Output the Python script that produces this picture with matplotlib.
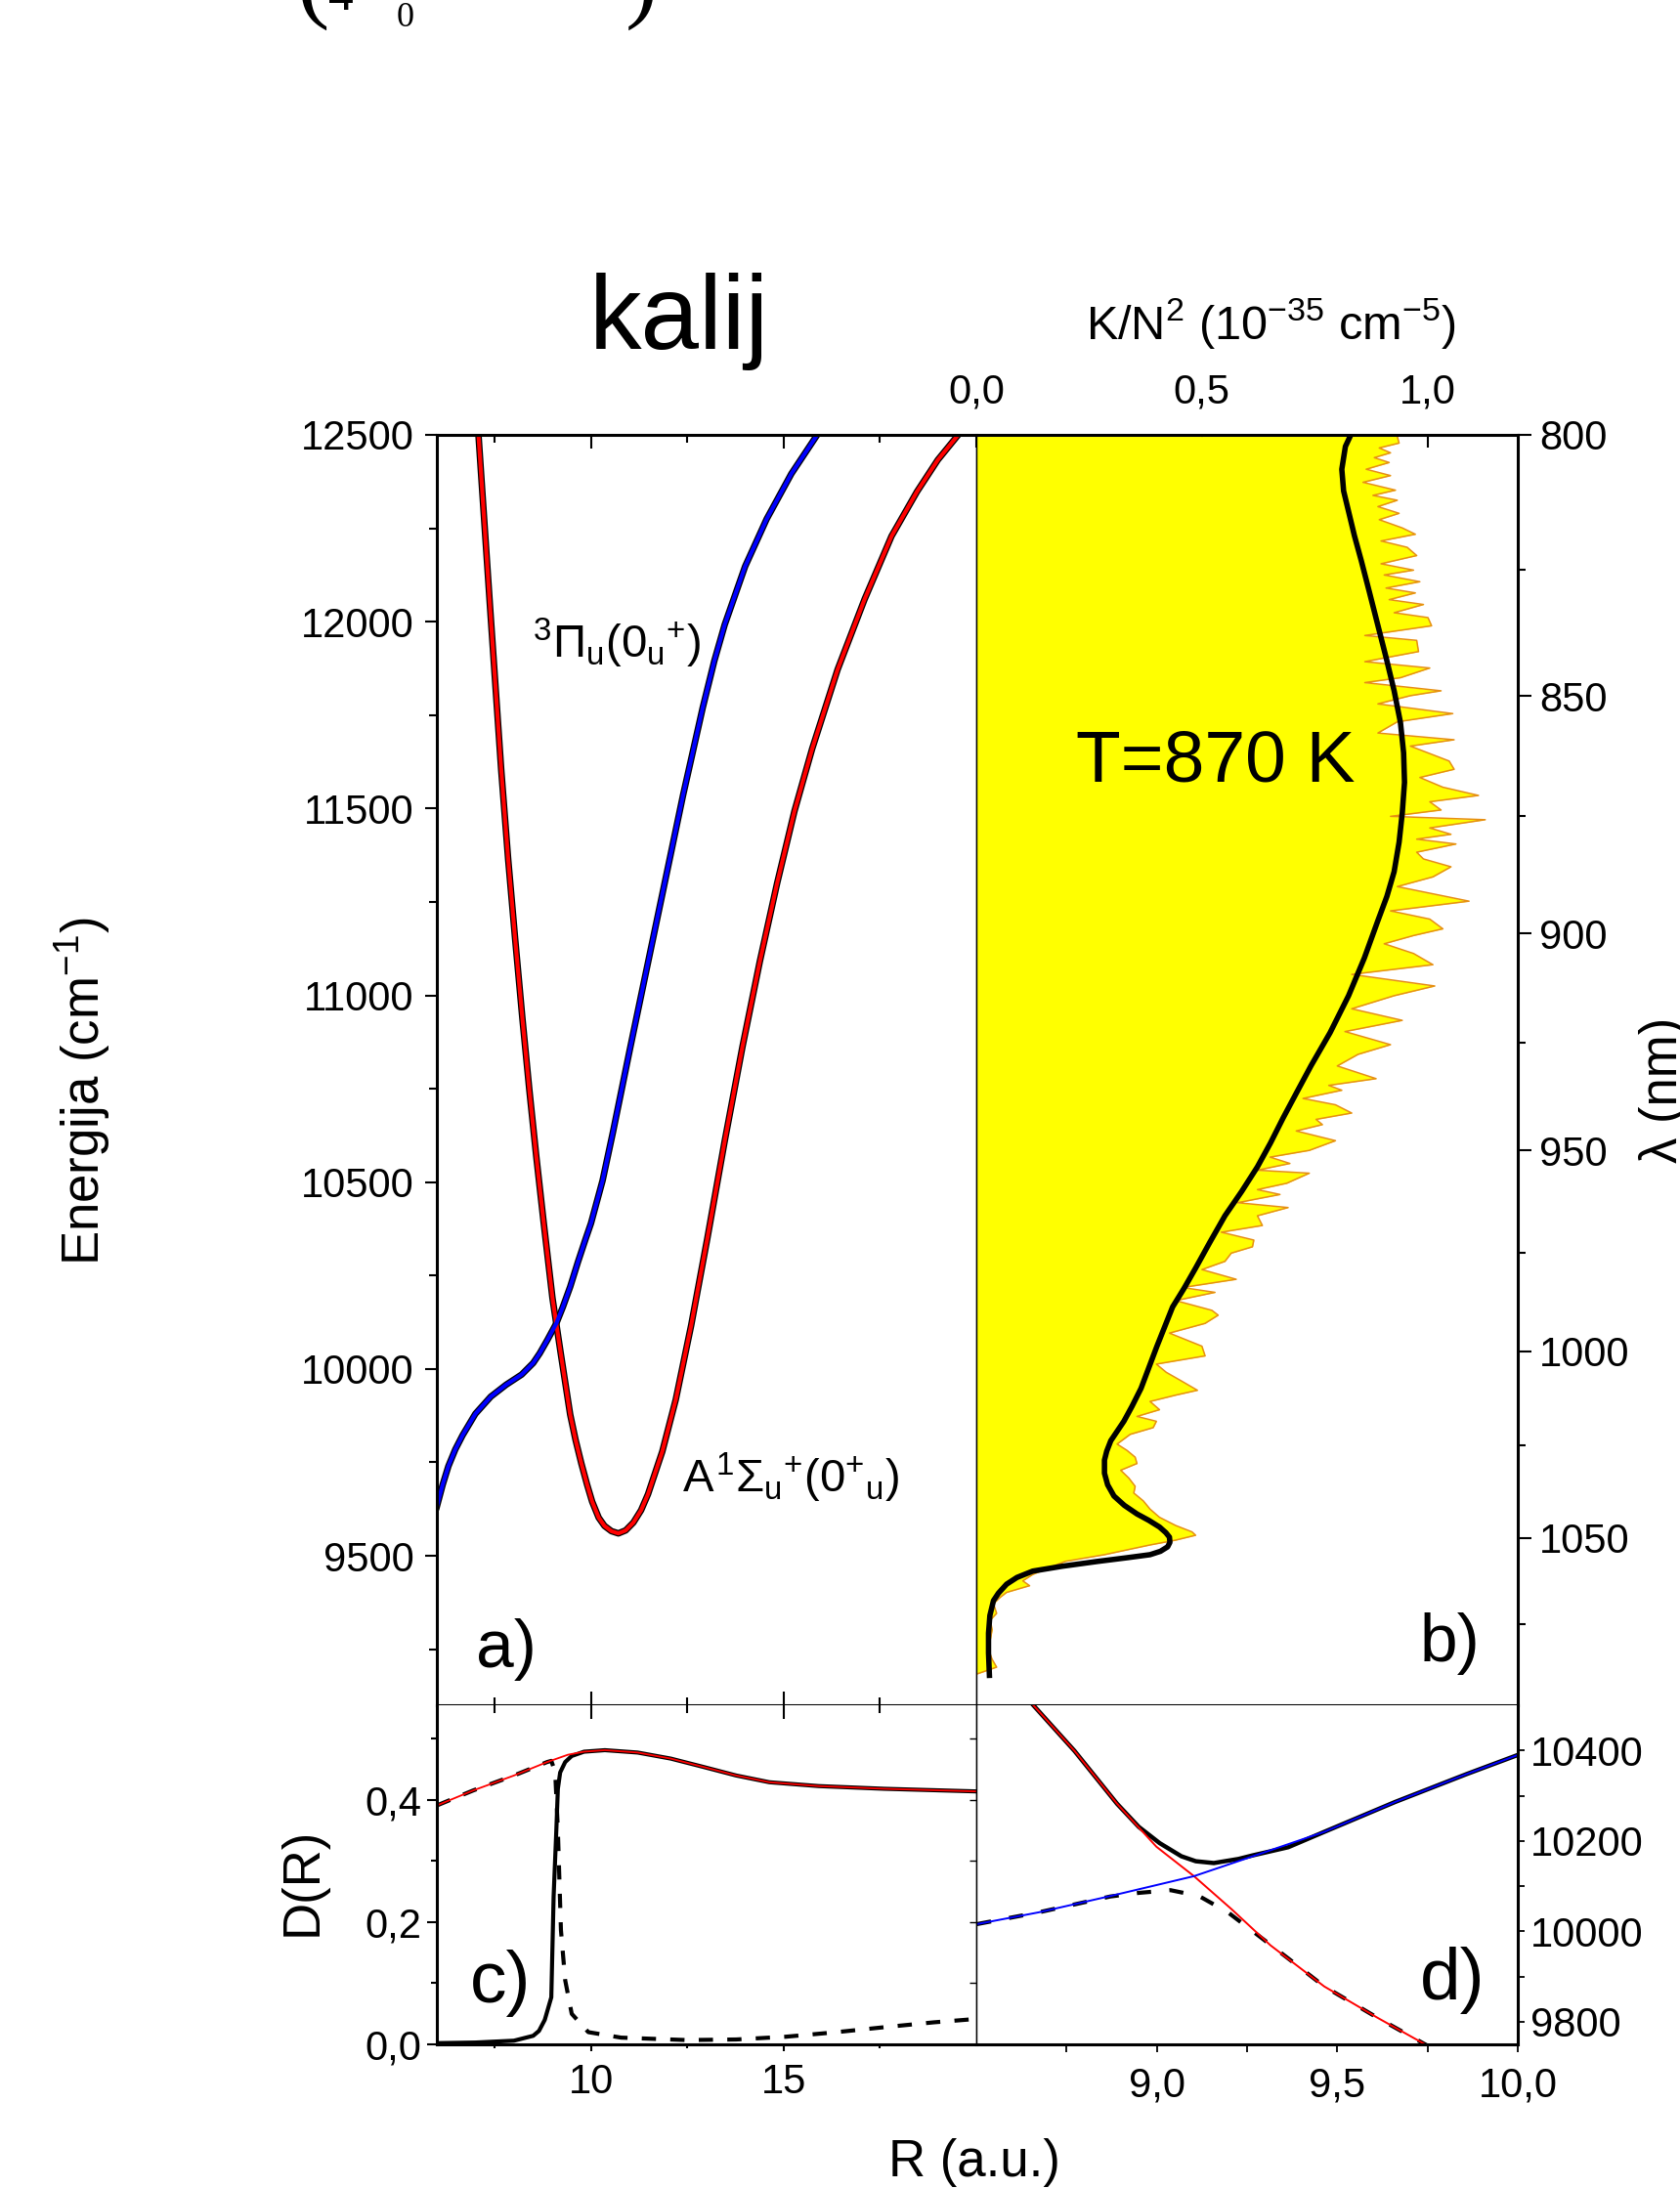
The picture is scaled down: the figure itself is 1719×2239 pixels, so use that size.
import numpy as np
import matplotlib
matplotlib.use('Agg')
import matplotlib.pyplot as plt

plt.rcParams['font.family'] = ['Liberation Sans', 'DejaVu Sans']
plt.rcParams['mathtext.fontset'] = 'custom'
plt.rcParams['mathtext.rm'] = 'Liberation Sans'
plt.rcParams['mathtext.it'] = 'Liberation Sans'
plt.rcParams['mathtext.sf'] = 'Liberation Sans'
plt.rcParams['mathtext.bf'] = 'Liberation Sans:bold'

# --- a) potential curves, R (a.u.) vs energy (cm^-1) ---
A_R = [7.08, 7.38, 7.67, 7.85, 8.03, 8.22, 8.40, 8.58, 8.77, 9.00, 9.21, 9.46, 9.60, 9.75,
       9.90, 10.03, 10.20, 10.35, 10.53, 10.71, 10.90, 11.10, 11.30, 11.48, 11.85, 12.20,
       12.60, 13.02, 13.47, 13.93, 14.38, 14.83, 15.28, 15.74, 16.40, 17.10, 17.80, 18.46,
       19.00, 19.53]
A_E = [12500, 12040, 11604, 11365, 11153, 10938, 10747, 10569, 10394, 10190, 10045, 9878,
       9810, 9747, 9690, 9645, 9602, 9580, 9566, 9560, 9568, 9589, 9622, 9665, 9779, 9918,
       10117, 10350, 10610, 10862, 11090, 11300, 11493, 11660, 11872, 12060, 12229, 12348,
       12433, 12500]

PI_R = [6.00, 6.15, 6.30, 6.48, 6.67, 7.00, 7.40, 7.80, 8.20, 8.50, 8.67, 8.87, 9.10, 9.27,
        9.46, 9.66, 9.86, 10.00, 10.30, 10.57, 11.00, 11.48, 12.00, 12.39, 12.90, 13.20,
        13.47, 14.00, 14.56, 15.20, 15.87]
PI_E = [9632, 9690, 9740, 9785, 9823, 9880, 9926, 9958, 9985, 10016, 10042, 10078, 10122,
        10166, 10220, 10286, 10348, 10390, 10504, 10634, 10851, 11088, 11344, 11536, 11770,
        11895, 11992, 12148, 12275, 12396, 12500]

# --- b) measured spectrum K/N^2 (10^-35 cm^-5), placed on the energy scale of a) ---
SPEC_E = [12496, 12478, 12465, 12452, 12439, 12426, 12408, 12391, 12373, 12352, 12338, 12325,
          12308, 12290, 12273, 12251, 12234, 12216, 12199, 12177, 12155, 12138, 12125, 12107,
          12090, 12077, 12059, 12046, 12024, 12011, 11989, 11963, 11950, 11920, 11893, 11876,
          11850, 11837, 11815, 11802, 11780, 11754, 11732, 11702, 11684, 11667, 11627, 11605,
          11583, 11557, 11535, 11518, 11496, 11479, 11470, 11448, 11431, 11418, 11405, 11383,
          11365, 11344, 11317, 11291, 11252, 11226, 11204, 11178, 11160, 11138, 11112, 11082,
          11056, 11025, 10999, 10964, 10933, 10903, 10868, 10842, 10811, 10777, 10759, 10746,
          10724, 10707, 10685, 10668, 10654, 10637, 10611, 10585, 10567, 10550, 10532, 10524,
          10497, 10480, 10467, 10445, 10432, 10410, 10384, 10366, 10345, 10327, 10310, 10288,
          10266, 10240, 10218, 10205, 10183, 10157, 10144, 10122, 10096, 10061, 10035, 10013,
          9991, 9969, 9943, 9930, 9913, 9891, 9873, 9860, 9843, 9825, 9799, 9782, 9764, 9747,
          9729, 9708, 9686, 9668, 9647, 9625, 9603, 9581, 9564, 9555, 9542, 9529, 9503, 9485,
          9468, 9450, 9433, 9420, 9402, 9389, 9372, 9346, 9328, 9302, 9276, 9258, 9223, 9202,
          9184]
SPEC_K = [0.933, 0.937, 0.893, 0.918, 0.882, 0.915, 0.864, 0.918, 0.857, 0.929, 0.879, 0.933,
          0.890, 0.937, 0.893, 0.944, 0.973, 0.897, 0.955, 0.976, 0.897, 0.969, 0.904, 0.983,
          0.908, 0.973, 0.915, 0.991, 0.926, 1.001, 1.009, 0.861, 0.976, 0.980, 0.861, 1.005,
          0.940, 0.861, 1.030, 0.962, 0.890, 1.056, 0.933, 0.890, 1.059, 0.962, 1.048, 1.059,
          0.983, 1.034, 1.113, 1.005, 1.030, 0.918, 1.128, 1.005, 1.052, 0.976, 1.063, 0.976,
          0.991, 1.052, 1.012, 0.933, 1.092, 0.918, 1.005, 1.034, 0.969, 0.904, 0.969, 1.012,
          0.832, 1.016, 0.926, 0.832, 0.944, 0.817, 0.918, 0.846, 0.800, 0.886, 0.781, 0.810,
          0.724, 0.796, 0.832, 0.753, 0.767, 0.709, 0.796, 0.738, 0.651, 0.695, 0.623, 0.738,
          0.688, 0.623, 0.673, 0.579, 0.691, 0.623, 0.634, 0.543, 0.615, 0.612, 0.565, 0.551,
          0.500, 0.576, 0.457, 0.529, 0.442, 0.522, 0.536, 0.507, 0.428, 0.500, 0.507, 0.399,
          0.421, 0.453, 0.490, 0.442, 0.385, 0.406, 0.356, 0.399, 0.392, 0.341, 0.312, 0.334,
          0.352, 0.356, 0.320, 0.338, 0.352, 0.349, 0.370, 0.385, 0.406, 0.442, 0.478, 0.486,
          0.442, 0.385, 0.284, 0.197, 0.161, 0.125, 0.103, 0.118, 0.067, 0.053, 0.038, 0.045,
          0.031, 0.035, 0.031, 0.024, 0.035, 0.045, 0.002]

# simulated spectrum (black line)
SIM_E = [12500, 12469, 12408, 12350, 12295, 12230, 12164, 12080, 11990, 11900, 11815, 11730,
         11649, 11570, 11488, 11410, 11331, 11265, 11200, 11100, 10999, 10900, 10812, 10740,
         10672, 10605, 10541, 10475, 10410, 10340, 10270, 10215, 10166, 10060, 9948, 9900,
         9860, 9808, 9780, 9756, 9721, 9690, 9660, 9635, 9612, 9595, 9577, 9562, 9550, 9536,
         9524, 9512, 9503, 9495, 9485, 9472, 9459, 9442, 9424, 9400, 9380, 9340, 9293, 9240,
         9180]
SIM_K = [0.830, 0.818, 0.810, 0.814, 0.825, 0.838, 0.853, 0.871, 0.890, 0.909, 0.926, 0.940,
         0.947, 0.949, 0.944, 0.937, 0.926, 0.910, 0.890, 0.860, 0.825, 0.784, 0.742, 0.710,
         0.680, 0.652, 0.623, 0.588, 0.551, 0.518, 0.486, 0.460, 0.435, 0.400, 0.365, 0.345,
         0.327, 0.298, 0.289, 0.284, 0.284, 0.291, 0.305, 0.328, 0.356, 0.382, 0.406, 0.420,
         0.428, 0.429, 0.424, 0.408, 0.385, 0.335, 0.269, 0.190, 0.125, 0.090, 0.067, 0.049,
         0.038, 0.030, 0.027, 0.027, 0.029]

# wavelength axis of b): tick values and where they sit on the energy scale
LAMBDA_TICKS = [800, 850, 900, 950, 1000, 1050]
LAMBDA_TICK_E = [12500, 11801, 11165, 10585, 10048, 9548]
LAMBDA_MINOR_E = [12140, 11479, 10872, 10312, 9796, 9317]

# --- c) transition dipole D(R) ---
DIAB_R = [6.00, 6.94, 8.00, 8.86, 9.40, 9.82, 10.36, 11.21, 12.07, 12.92, 13.77, 14.63,
          15.91, 17.61, 20.00]
DIAB_D = [0.391, 0.4155, 0.440, 0.462, 0.474, 0.479, 0.4815, 0.4776, 0.4677, 0.454, 0.440,
          0.429, 0.4227, 0.4183, 0.414]
UPPER_R = [6.00, 7.00, 8.00, 8.50, 8.65, 8.80, 8.97, 9.03, 9.10, 9.14, 9.20, 9.33, 9.50,
           9.82, 10.36, 11.21, 12.07, 12.92, 13.77, 14.63, 15.91, 17.61, 20.00]
UPPER_D = [0.002, 0.003, 0.006, 0.014, 0.022, 0.040, 0.077, 0.242, 0.350, 0.418, 0.445,
           0.462, 0.472, 0.479, 0.4815, 0.4776, 0.4677, 0.454, 0.440, 0.429, 0.4227, 0.4183,
           0.414]
LOWER_R = [6.00, 6.94, 8.00, 8.86, 8.97, 9.07, 9.14, 9.22, 9.33, 9.50, 9.93, 10.78, 12.49,
           13.77, 15.06, 16.33, 17.60, 18.89, 20.00]
LOWER_D = [0.391, 0.4155, 0.440, 0.462, 0.464, 0.446, 0.352, 0.187, 0.105, 0.050, 0.020,
           0.011, 0.007, 0.008, 0.0125, 0.0197, 0.028, 0.036, 0.0416]

# --- d) crossing region ---
D_RED_R = [8.658, 8.772, 8.890, 8.999, 9.103, 9.207, 9.315, 9.464, 9.611, 9.750]
D_RED_E = [10500, 10399, 10282, 10187, 10122, 10049, 9969, 9878, 9809, 9747]
D_BLUE_R = [8.502, 8.673, 8.871, 9.103, 9.266, 9.464, 9.660, 9.859, 10.0]
D_BLUE_E = [10016, 10042, 10078, 10122, 10166, 10220, 10286, 10348, 10390]
D_UP_R = [8.658, 8.772, 8.890, 8.950, 9.008, 9.068, 9.108, 9.158, 9.226, 9.266, 9.364,
          9.464, 9.660, 9.859, 10.0]
D_UP_E = [10500, 10399, 10282, 10231, 10195, 10166, 10155, 10151, 10160, 10168, 10186,
          10220, 10286, 10348, 10390]
D_LOW_R = [8.502, 8.673, 8.871, 8.950, 9.038, 9.117, 9.197, 9.276, 9.364, 9.464, 9.611, 9.750]
D_LOW_E = [10016, 10042, 10077, 10085, 10091, 10078, 10042, 9994, 9940, 9878, 9809, 9747]

W, H = 1719, 2239
fig = plt.figure(figsize=(W / 100, H / 100), dpi=100)


def box(x0, y0, x1, y1):
    # pixel box (top-left origin) -> figure fraction rect
    return [x0 / W, 1 - y1 / H, (x1 - x0) / W, (y1 - y0) / H]


ax_a = fig.add_axes(box(447, 445, 999, 1745))
ax_b = fig.add_axes(box(999, 445, 1553, 1745))
ax_c = fig.add_axes(box(447, 1745, 999, 2092))
ax_d = fig.add_axes(box(999, 1745, 1553, 2092))

SP = 2.2
for ax in (ax_a, ax_b, ax_c, ax_d):
    for s in ax.spines.values():
        s.set_linewidth(SP)
# thin inner dividers
ax_a.spines['right'].set_linewidth(1.0)
ax_b.spines['left'].set_linewidth(1.0)
ax_c.spines['right'].set_linewidth(1.0)
ax_d.spines['left'].set_linewidth(1.0)
ax_c.spines['top'].set_visible(False)
ax_d.spines['top'].set_visible(False)

LS = 30

# ---- panel a ----
ax_a.plot(A_R, A_E, color='black', lw=4.8)
ax_a.plot(PI_R, PI_E, color='black', lw=4.8)
ax_a.plot(A_R, A_E, color='red', lw=3.0)
ax_a.plot(PI_R, PI_E, color='blue', lw=3.0)
ax_a.set_xlim(6, 20)
ax_a.set_ylim(9100, 12500)
ax_a.set_yticks(np.arange(9500, 12501, 500))
ax_a.set_yticks(np.arange(9250, 12400, 500), minor=True)
ax_a.set_xticks([10, 15])
ax_a.set_xticks([7.5, 12.5, 17.5], minor=True)
ax_a.tick_params(axis='y', which='both', direction='out', right=False, labelsize=LS,
                 pad=8, width=1.5)
ax_a.tick_params(axis='y', which='major', length=9)
ax_a.tick_params(axis='y', which='minor', length=5.5)
ax_a.tick_params(axis='x', which='both', direction='in', top=True, bottom=True,
                 labelbottom=False, width=1.5)
ax_a.tick_params(axis='x', which='major', length=10)
ax_a.tick_params(axis='x', which='minor', length=5.5)
ax_a.text(0.333, 0.836, r'${}^{3}\Pi_{\mathrm{u}}(0_{\mathrm{u}}{}^{+})$',
          transform=ax_a.transAxes, fontsize=34, ha='center', va='center')
ax_a.text(0.656, 0.179, r'$A^{1}\Sigma_{\mathrm{u}}{}^{+}(0^{+}{}_{\mathrm{u}})$',
          transform=ax_a.transAxes, fontsize=34, ha='center', va='center')
ax_a.text(0.072, 0.030, 'a)', transform=ax_a.transAxes, fontsize=50, ha='left', va='baseline')

# ---- panel b ----
ax_b.set_axisbelow(True)
ax_b.fill_betweenx(SPEC_E, 0, SPEC_K, color='#ffff00', lw=0, zorder=1)
ax_b.plot(SPEC_K, SPEC_E, color='#e68f14', lw=1.1, zorder=2)
ax_b.plot(SIM_K, SIM_E, color='black', lw=4.0, zorder=3)
ax_b.set_xlim(0, 1.2)
ax_b.set_ylim(9100, 12500)
ax_b.xaxis.tick_top()
ax_b.set_xticks([0.0, 0.5, 1.0], ['0,0', '0,5', '1,0'])
ax_b.tick_params(axis='x', direction='in', length=9, width=1.5, labelsize=LS, pad=17)
ax_b.yaxis.tick_right()
ax_b.set_yticks(LAMBDA_TICK_E, [str(v) for v in LAMBDA_TICKS])
ax_b.set_yticks(LAMBDA_MINOR_E, minor=True)
ax_b.tick_params(axis='y', which='both', direction='out', left=False, right=True,
                 labelsize=LS, pad=6, width=1.5)
ax_b.tick_params(axis='y', which='major', length=10)
ax_b.tick_params(axis='y', which='minor', length=6)
ax_b.text(0.442, 0.742, 'T=870 K', transform=ax_b.transAxes, fontsize=54,
          ha='center', va='center')
ax_b.text(0.819, 0.035, 'b)', transform=ax_b.transAxes, fontsize=50, ha='left', va='baseline')

# ---- panel c ----
ax_c.plot(UPPER_R, UPPER_D, color='black', lw=3.0)
ax_c.plot(LOWER_R, LOWER_D, color='black', lw=3.0, dashes=(3.5, 3.5))
ax_c.plot(DIAB_R, DIAB_D, color='red', lw=1.3)
ax_c.set_xlim(6, 20)
ax_c.set_ylim(0, 0.555)
ax_c.set_xticks([10, 15], ['10', '15'])
ax_c.set_xticks([7.5, 12.5, 17.5], minor=True)
ax_c.set_yticks([0.0, 0.2, 0.4], ['0,0', '0,2', '0,4'])
ax_c.set_yticks([0.1, 0.3, 0.5], minor=True)
ax_c.tick_params(axis='both', which='both', direction='out', labelsize=LS, width=1.5)
ax_c.tick_params(axis='x', which='major', length=5, pad=9)
ax_c.tick_params(axis='x', which='minor', length=3)
ax_c.tick_params(axis='y', which='major', length=7, pad=4)
ax_c.tick_params(axis='y', which='minor', length=4)
c_top = ax_c.secondary_xaxis('top')
c_top.set_xticks([10, 15], ['', ''])
c_top.set_xticks([7.5, 12.5, 17.5], minor=True)
c_top.tick_params(which='both', direction='in', width=1.5)
c_top.tick_params(which='major', length=10)
c_top.tick_params(which='minor', length=5.5)
c_top.spines['top'].set_visible(False)
c_right = ax_c.secondary_yaxis('right')
c_right.set_yticks([0.0, 0.2, 0.4], ['', '', ''])
c_right.set_yticks([0.1, 0.3, 0.5], minor=True)
c_right.tick_params(which='both', direction='in', width=1.0, length=5)
c_right.spines['right'].set_visible(False)
ax_c.text(0.062, 0.124, 'c)', transform=ax_c.transAxes, fontsize=54, ha='left', va='baseline')

# ---- panel d ----
ax_d.plot(D_UP_R, D_UP_E, color='black', lw=3.2)
ax_d.plot(D_LOW_R, D_LOW_E, color='black', lw=3.0, dashes=(3.5, 4.5))
ax_d.plot(D_RED_R, D_RED_E, color='red', lw=1.4)
ax_d.plot(D_BLUE_R, D_BLUE_E, color='blue', lw=1.4)
ax_d.set_xlim(8.5, 10.0)
ax_d.set_ylim(9750, 10500)
ax_d.set_xticks([9.0, 9.5, 10.0], ['9,0', '9,5', '10,0'])
ax_d.set_xticks([8.75, 9.25, 9.75], minor=True)
ax_d.yaxis.tick_right()
ax_d.set_yticks([9800, 10000, 10200, 10400], ['9800', '10000', '10200', '10400'])
ax_d.set_yticks([9900, 10100, 10300], minor=True)
ax_d.tick_params(axis='both', which='both', direction='out', labelsize=LS, width=1.3)
ax_d.tick_params(axis='x', which='both', length=6, pad=10)
ax_d.tick_params(axis='y', which='both', left=False, right=True, length=5, pad=4)
ax_d.text(0.82, 0.133, 'd)', transform=ax_d.transAxes, fontsize=54, ha='left', va='baseline')

# ---- figure labels ----
fig.text(695 / W, 1 - 357 / H, 'kalij', fontsize=77, ha='center', va='baseline')
fig.text(1301 / W, 1 - 347 / H, r'K/N$^{2}$ (10$^{-35}$ cm$^{-5}$)', fontsize=35,
         ha='center', va='baseline')
fig.text(85 / W, 1 - 1117 / H, r'Energija (cm$^{-1}$)', fontsize=38, rotation=90,
         ha='center', va='center')
fig.text(310 / W, 1 - 1925 / H, 'D(R)', fontsize=38, rotation=90, ha='center', va='center')
fig.text(997 / W, 1 - 2213 / H, 'R (a.u.)', fontsize=38, ha='center', va='center')
# runs off the right page edge, as in the source page
fig.text(1677 / W, 1 - 1115 / H, 'λ (nm)', fontsize=38, rotation=90, ha='left', va='center')

# cut-off equation fragment at the page top
fig.text(304 / W, 1 - 10 / H, '(', fontsize=72, family='Liberation Serif', va='baseline')
fig.text(336 / W, 1 - 10 / H, '4', fontsize=37, family='Liberation Serif', va='baseline')
fig.text(406 / W, 1 - 27 / H, '0', fontsize=26, family='Liberation Serif', va='baseline')
fig.text(640 / W, 1 - 10 / H, ')', fontsize=72, family='Liberation Serif', va='baseline')

fig.savefig('out.png', dpi=100)
